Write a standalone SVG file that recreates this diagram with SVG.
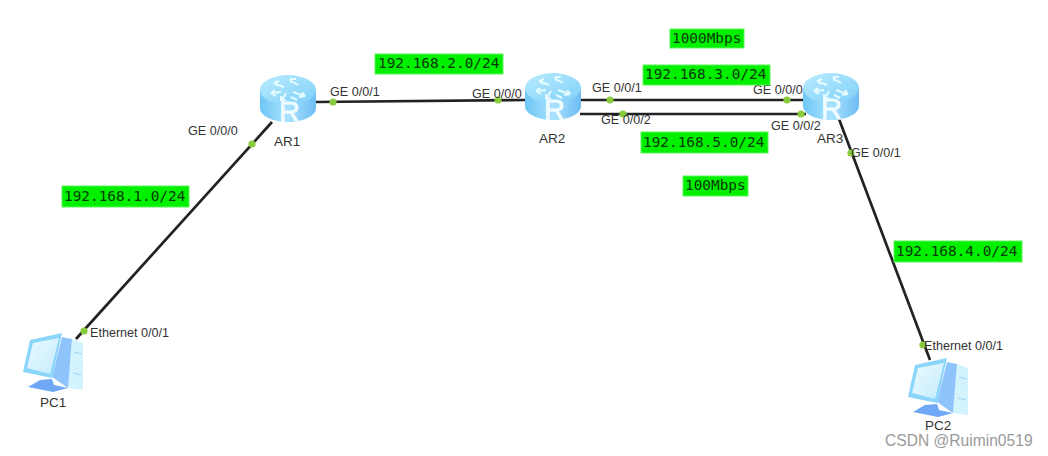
<svg xmlns="http://www.w3.org/2000/svg" width="1048" height="456" viewBox="0 0 1048 456">
<style>
.lbl{font-family:"Liberation Sans",Arial,sans-serif;font-size:12.6px;fill:#333}
.nm{font-family:"Liberation Sans",Arial,sans-serif;font-size:13.5px;fill:#333}
.net{font-family:"DejaVu Sans Mono",monospace;font-size:14.4px;fill:#063a06}
.bx{fill:#00f000;stroke:#5cf55c;stroke-width:1}
.ln{stroke:#222;stroke-width:2.7;fill:none}
.dot{fill:#86cc3c}
.wm{font-family:"Liberation Sans",Arial,sans-serif;font-size:15.6px;fill:#9a9a9a}
.rr{font-family:"Liberation Sans",Arial,sans-serif;font-size:29px;fill:#eefcff;stroke:#eefcff;stroke-width:.8}
</style>
<defs>
<linearGradient id="rb" x1="0" x2="1" y1="0" y2="0"><stop offset="0" stop-color="#6fc6f5"/><stop offset="0.5" stop-color="#a9e2ff"/><stop offset="1" stop-color="#6cbdf2"/></linearGradient>
<linearGradient id="rt" x1="0" x2="1" y1="0" y2="1"><stop offset="0" stop-color="#b8ebff"/><stop offset="1" stop-color="#7fd0f8"/></linearGradient>
<linearGradient id="scr" x1="0" x2="1" y1="0" y2="1"><stop offset="0" stop-color="#eafaff"/><stop offset="1" stop-color="#c4ecfb"/></linearGradient>
<symbol id="router" viewBox="0 0 56 47" width="56" height="47" overflow="visible">
<path d="M0 15V33C0 41 13 47 28 47S56 41 56 33V15Z" fill="url(#rb)"/>
<ellipse cx="28" cy="15" rx="28" ry="15" fill="url(#rt)"/>
<g stroke="#e6fbff" stroke-width="2" fill="none">
<path d="M16 9L24 12M14 8l5-2M14 8l4 3"/>
<path d="M31 6L38 10M30 4l6 0M30 4l2 4"/>
<path d="M12 18L21 17M11 18l4-3M11 18l5 3"/>
<path d="M33 17L44 21M45 21l-6 1M45 21l-3-4"/>
<path d="M26 18L22 25M21 26l0-5M21 26l5-1"/>
<path d="M31 22L37 25"/>
</g>
</symbol>
<symbol id="pc" viewBox="0 0 60 60" width="60" height="60" overflow="visible">
<path d="M49 6L60 10V57L45 55Z" fill="#d3f3ff"/>
<path d="M39 4L49 6L45 55L29 44Z" fill="#8fc3fb"/>
<path d="M0 39L7 7L39 0L29 45Z" fill="#8ad6fb"/>
<path d="M4 35L10 10L36 5L27 41Z" fill="url(#scr)"/>
<path d="M5 54L17 47L29 46L31 52L45 55L30 59Z" fill="#6fa8f5"/>
<path d="M51 19L59 21M50 40L58 42" stroke="#9ad7f2" stroke-width="1" fill="none"/>
</symbol>
</defs>

<g id="connectors">
<path class="ln" d="M272 122L76 339"/>
<path class="ln" d="M316 102L526 100"/>
<path class="ln" d="M580 100H804"/>
<path class="ln" d="M580 114H806"/>
<path class="ln" d="M839 119L930 360"/>
<circle class="dot" cx="252" cy="144" r="3.6"/>
<circle class="dot" cx="333" cy="102" r="3.6"/>
<circle class="dot" cx="498" cy="100" r="3.6"/>
<circle class="dot" cx="610" cy="100" r="3.6"/>
<circle class="dot" cx="787" cy="100" r="3.6"/>
<circle class="dot" cx="623" cy="114" r="3.6"/>
<circle class="dot" cx="801" cy="114" r="3.6"/>
<circle class="dot" cx="851" cy="153" r="3.6"/>
<circle class="dot" cx="84" cy="331" r="3.6"/>
<circle class="dot" cx="923" cy="345" r="3.6"/>
</g>

<g id="AR1"><use href="#router" x="260" y="75"/><text class="rr" x="279" y="122">R</text><text class="nm" x="274" y="146">AR1</text></g>
<g id="AR2"><use href="#router" x="525" y="73"/><text class="rr" x="544" y="120">R</text><text class="nm" x="539" y="143">AR2</text></g>
<g id="AR3"><use href="#router" x="803" y="73"/><text class="rr" x="821" y="119">R</text><text class="nm" x="817" y="143">AR3</text></g>
<g id="PC1"><use href="#pc" x="23" y="333"/><text class="nm" x="40" y="407">PC1</text></g>
<g id="PC2"><use href="#pc" x="908" y="358"/><text class="nm" x="925" y="430">PC2</text></g>

<g id="port-labels">
<text class="lbl" x="188" y="135">GE 0/0/0</text>
<text class="lbl" x="330" y="96">GE 0/0/1</text>
<text class="lbl" x="472" y="98">GE 0/0/0</text>
<text class="lbl" x="592" y="92">GE 0/0/1</text>
<text class="lbl" x="753" y="94">GE 0/0/0</text>
<text class="lbl" x="601" y="124">GE 0/0/2</text>
<text class="lbl" x="771" y="130">GE 0/0/2</text>
<text class="lbl" x="851" y="157">GE 0/0/1</text>
<text class="lbl" x="90" y="337">Ethernet 0/0/1</text>
<text class="lbl" x="924" y="350">Ethernet 0/0/1</text>
</g>

<g id="networks">
<g id="net1"><rect class="bx" x="62" y="186" width="127" height="21"/><text class="net" x="64" y="201">192.168.1.0/24</text></g>
<g id="net2"><rect class="bx" x="375" y="54" width="128" height="20"/><text class="net" x="378" y="68">192.168.2.0/24</text></g>
<g id="net3"><rect class="bx" x="643" y="65" width="127" height="20"/><text class="net" x="645" y="79">192.168.3.0/24</text></g>
<g id="net5"><rect class="bx" x="641" y="132" width="127" height="21"/><text class="net" x="643" y="147">192.168.5.0/24</text></g>
<g id="net4"><rect class="bx" x="894" y="241" width="128" height="21"/><text class="net" x="896" y="256">192.168.4.0/24</text></g>
<g id="bw1"><rect class="bx" x="670" y="29" width="74" height="19"/><text class="net" x="672" y="43">1000Mbps</text></g>
<g id="bw2"><rect class="bx" x="683" y="176" width="65" height="20"/><text class="net" x="685" y="190">100Mbps</text></g>
</g>
<text class="wm" x="885" y="446">CSDN @Ruimin0519</text>
</svg>
